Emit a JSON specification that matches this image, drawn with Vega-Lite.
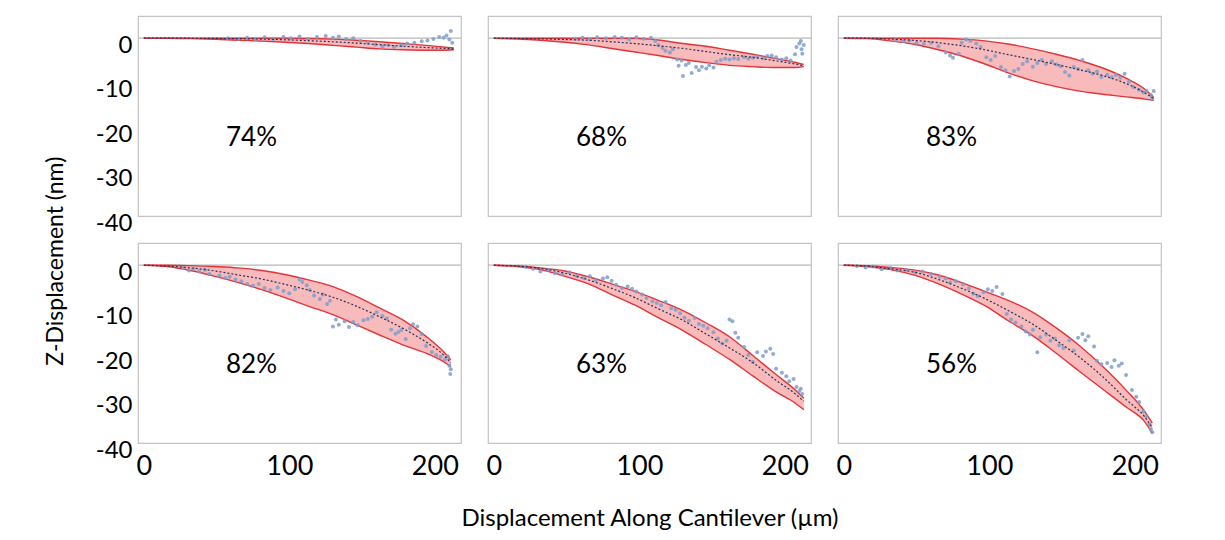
{
  "$schema": "https://vega.github.io/schema/vega-lite/v6.json",
  "padding": {"left": 45, "top": 15, "right": 5, "bottom": 5},
  "background": "white",
  "title": {"text": "Z-Displacement (nm)", "orient": "left", "anchor": "middle", "fontSize": 23, "fontWeight": "normal", "color": "black", "font": "Lato", "offset": 27, "dx": 12},
  "config": {
    "font": "Lato",
    "view": {"stroke": "#c4c4c4", "strokeWidth": 1.2},
    "axisX": {"ticks": false, "domain": false, "grid": false, "labelFontSize": 27, "labelColor": "black", "labelPadding": 9, "labelFlush": false, "labelFont": "Lato"},
    "axisY": {"ticks": false, "domain": false, "grid": false, "labelFontSize": 24, "labelColor": "black", "labelPadding": 4, "labelOffset": 7, "labelFlush": false, "labelFont": "Lato"}
  },
  "spacing": {"row": 25, "column": 23},
  "data": {"values": [
    {"r":1,"c":1,"k":"t","s":"74%"},
    {"r":1,"c":2,"k":"t","s":"68%"},
    {"r":1,"c":3,"k":"t","s":"83%"},
    {"r":2,"c":1,"k":"t","s":"82%"},
    {"r":2,"c":2,"k":"t","s":"63%"},
    {"r":2,"c":3,"k":"t","s":"56%"},

    {"r":1,"c":1,"k":"b","x":0,"u":0,"m":0,"l":0},
    {"r":1,"c":1,"k":"b","x":16,"u":0,"m":0,"l":0},
    {"r":1,"c":1,"k":"b","x":32,"u":0,"m":0,"l":-0.1},
    {"r":1,"c":1,"k":"b","x":49,"u":0,"m":-0.05,"l":-0.25},
    {"r":1,"c":1,"k":"b","x":65,"u":0,"m":-0.1,"l":-0.45},
    {"r":1,"c":1,"k":"b","x":81,"u":0,"m":-0.2,"l":-0.65},
    {"r":1,"c":1,"k":"b","x":97,"u":0,"m":-0.35,"l":-0.9},
    {"r":1,"c":1,"k":"b","x":113,"u":-0.05,"m":-0.55,"l":-1.2},
    {"r":1,"c":1,"k":"b","x":130,"u":-0.2,"m":-0.8,"l":-1.6},
    {"r":1,"c":1,"k":"b","x":146,"u":-0.45,"m":-1.1,"l":-2.0},
    {"r":1,"c":1,"k":"b","x":162,"u":-0.8,"m":-1.45,"l":-2.4},
    {"r":1,"c":1,"k":"b","x":178,"u":-1.2,"m":-1.8,"l":-2.6},
    {"r":1,"c":1,"k":"b","x":194,"u":-1.6,"m":-2.1,"l":-2.7},
    {"r":1,"c":1,"k":"b","x":207,"u":-2.0,"m":-2.3,"l":-2.7},
    {"r":1,"c":1,"k":"b","x":213,"u":-2.2,"m":-2.4,"l":-2.6},

    {"r":1,"c":2,"k":"b","x":0,"u":0,"m":0,"l":0},
    {"r":1,"c":2,"k":"b","x":16,"u":0,"m":-0.05,"l":-0.2},
    {"r":1,"c":2,"k":"b","x":32,"u":0,"m":-0.15,"l":-0.45},
    {"r":1,"c":2,"k":"b","x":49,"u":0,"m":-0.3,"l":-0.9},
    {"r":1,"c":2,"k":"b","x":65,"u":0,"m":-0.45,"l":-1.5},
    {"r":1,"c":2,"k":"b","x":81,"u":0,"m":-0.8,"l":-2.3},
    {"r":1,"c":2,"k":"b","x":97,"u":0,"m":-1.2,"l":-3.1},
    {"r":1,"c":2,"k":"b","x":113,"u":-0.4,"m":-1.7,"l":-3.9},
    {"r":1,"c":2,"k":"b","x":130,"u":-1.2,"m":-2.3,"l":-4.8},
    {"r":1,"c":2,"k":"b","x":146,"u":-1.8,"m":-3.0,"l":-5.5},
    {"r":1,"c":2,"k":"b","x":162,"u":-2.7,"m":-3.7,"l":-6.1},
    {"r":1,"c":2,"k":"b","x":178,"u":-3.6,"m":-4.3,"l":-6.4},
    {"r":1,"c":2,"k":"b","x":194,"u":-4.6,"m":-5.1,"l":-6.6},
    {"r":1,"c":2,"k":"b","x":207,"u":-5.4,"m":-5.8,"l":-6.6},
    {"r":1,"c":2,"k":"b","x":213,"u":-5.9,"m":-6.2,"l":-6.4},

    {"r":1,"c":3,"k":"b","x":0,"u":0,"m":0,"l":0},
    {"r":1,"c":3,"k":"b","x":16,"u":0,"m":0,"l":-0.1},
    {"r":1,"c":3,"k":"b","x":32,"u":0,"m":-0.2,"l":-0.6},
    {"r":1,"c":3,"k":"b","x":49,"u":0,"m":-0.5,"l":-1.4},
    {"r":1,"c":3,"k":"b","x":65,"u":0,"m":-1.0,"l":-2.6},
    {"r":1,"c":3,"k":"b","x":81,"u":-0.2,"m":-1.7,"l":-4.0},
    {"r":1,"c":3,"k":"b","x":97,"u":-0.6,"m":-2.6,"l":-5.8},
    {"r":1,"c":3,"k":"b","x":113,"u":-1.3,"m":-3.7,"l":-7.8},
    {"r":1,"c":3,"k":"b","x":130,"u":-2.4,"m":-4.8,"l":-9.6},
    {"r":1,"c":3,"k":"b","x":146,"u":-3.6,"m":-5.9,"l":-10.9},
    {"r":1,"c":3,"k":"b","x":162,"u":-5.0,"m":-7.1,"l":-11.9},
    {"r":1,"c":3,"k":"b","x":178,"u":-6.7,"m":-8.4,"l":-12.6},
    {"r":1,"c":3,"k":"b","x":194,"u":-9.0,"m":-10.2,"l":-13.2},
    {"r":1,"c":3,"k":"b","x":207,"u":-11.5,"m":-12.3,"l":-13.7},
    {"r":1,"c":3,"k":"b","x":213,"u":-13.3,"m":-13.6,"l":-14.0},

    {"r":2,"c":1,"k":"b","x":0,"u":0,"m":0,"l":0},
    {"r":2,"c":1,"k":"b","x":16,"u":0,"m":-0.2,"l":-0.3},
    {"r":2,"c":1,"k":"b","x":32,"u":-0.1,"m":-0.6,"l":-1.2},
    {"r":2,"c":1,"k":"b","x":49,"u":-0.3,"m":-1.3,"l":-2.5},
    {"r":2,"c":1,"k":"b","x":65,"u":-0.6,"m":-2.2,"l":-3.9},
    {"r":2,"c":1,"k":"b","x":81,"u":-1.2,"m":-3.1,"l":-5.5},
    {"r":2,"c":1,"k":"b","x":97,"u":-2.1,"m":-4.3,"l":-7.3},
    {"r":2,"c":1,"k":"b","x":113,"u":-3.3,"m":-5.6,"l":-9.2},
    {"r":2,"c":1,"k":"b","x":130,"u":-4.8,"m":-7.2,"l":-11.1},
    {"r":2,"c":1,"k":"b","x":146,"u":-7.0,"m":-9.2,"l":-13.4},
    {"r":2,"c":1,"k":"b","x":162,"u":-9.6,"m":-11.6,"l":-15.7},
    {"r":2,"c":1,"k":"b","x":178,"u":-12.3,"m":-14.2,"l":-17.9},
    {"r":2,"c":1,"k":"b","x":194,"u":-16.0,"m":-17.3,"l":-19.8},
    {"r":2,"c":1,"k":"b","x":207,"u":-19.8,"m":-20.5,"l":-21.9},
    {"r":2,"c":1,"k":"b","x":211,"u":-21.3,"m":-22.0,"l":-22.8},

    {"r":2,"c":2,"k":"b","x":0,"u":0,"m":0,"l":0},
    {"r":2,"c":2,"k":"b","x":16,"u":-0.15,"m":-0.2,"l":-0.3},
    {"r":2,"c":2,"k":"b","x":32,"u":-0.6,"m":-0.7,"l":-1.0},
    {"r":2,"c":2,"k":"b","x":49,"u":-1.3,"m":-1.8,"l":-2.5},
    {"r":2,"c":2,"k":"b","x":65,"u":-2.6,"m":-3.3,"l":-4.2},
    {"r":2,"c":2,"k":"b","x":81,"u":-4.2,"m":-5.2,"l":-6.6},
    {"r":2,"c":2,"k":"b","x":97,"u":-5.9,"m":-7.3,"l":-9.0},
    {"r":2,"c":2,"k":"b","x":113,"u":-7.9,"m":-9.8,"l":-11.8},
    {"r":2,"c":2,"k":"b","x":130,"u":-10.2,"m":-12.4,"l":-14.7},
    {"r":2,"c":2,"k":"b","x":146,"u":-13.0,"m":-15.5,"l":-17.9},
    {"r":2,"c":2,"k":"b","x":162,"u":-16.1,"m":-18.6,"l":-21.2},
    {"r":2,"c":2,"k":"b","x":178,"u":-20.3,"m":-21.9,"l":-24.9},
    {"r":2,"c":2,"k":"b","x":194,"u":-24.6,"m":-25.9,"l":-28.5},
    {"r":2,"c":2,"k":"b","x":207,"u":-28.0,"m":-28.9,"l":-31.0},
    {"r":2,"c":2,"k":"b","x":213,"u":-29.9,"m":-30.6,"l":-32.5},

    {"r":2,"c":3,"k":"b","x":0,"u":0,"m":0,"l":0},
    {"r":2,"c":3,"k":"b","x":16,"u":-0.1,"m":-0.2,"l":-0.3},
    {"r":2,"c":3,"k":"b","x":32,"u":-0.5,"m":-0.8,"l":-1.0},
    {"r":2,"c":3,"k":"b","x":49,"u":-1.1,"m":-1.6,"l":-2.3},
    {"r":2,"c":3,"k":"b","x":65,"u":-2.2,"m":-3.2,"l":-4.2},
    {"r":2,"c":3,"k":"b","x":81,"u":-3.9,"m":-5.2,"l":-6.5},
    {"r":2,"c":3,"k":"b","x":97,"u":-5.9,"m":-7.5,"l":-9.1},
    {"r":2,"c":3,"k":"b","x":113,"u":-7.9,"m":-10.2,"l":-12.5},
    {"r":2,"c":3,"k":"b","x":130,"u":-10.6,"m":-13.3,"l":-15.9},
    {"r":2,"c":3,"k":"b","x":146,"u":-14.1,"m":-16.9,"l":-19.8},
    {"r":2,"c":3,"k":"b","x":162,"u":-18.1,"m":-20.7,"l":-23.9},
    {"r":2,"c":3,"k":"b","x":178,"u":-22.8,"m":-25.1,"l":-27.9},
    {"r":2,"c":3,"k":"b","x":194,"u":-28.1,"m":-30.2,"l":-31.9},
    {"r":2,"c":3,"k":"b","x":207,"u":-33.0,"m":-34.2,"l":-35.3},
    {"r":2,"c":3,"k":"b","x":212,"u":-35.5,"m":-36.6,"l":-37.8},

    {"r":1,"c":1,"k":"p","x":58,"z":0.0},{"r":1,"c":1,"k":"p","x":65,"z":-0.2},{"r":1,"c":1,"k":"p","x":71,"z":0.1},{"r":1,"c":1,"k":"p","x":77,"z":-0.3},
    {"r":1,"c":1,"k":"p","x":83,"z":0.2},{"r":1,"c":1,"k":"p","x":89,"z":-0.2},{"r":1,"c":1,"k":"p","x":96,"z":0.3},{"r":1,"c":1,"k":"p","x":101,"z":0.0},
    {"r":1,"c":1,"k":"p","x":107,"z":0.4},{"r":1,"c":1,"k":"p","x":113,"z":-0.1},{"r":1,"c":1,"k":"p","x":119,"z":0.3},{"r":1,"c":1,"k":"p","x":125,"z":0.5},
    {"r":1,"c":1,"k":"p","x":130,"z":0.1},{"r":1,"c":1,"k":"p","x":134,"z":0.4},{"r":1,"c":1,"k":"p","x":139,"z":-0.2},{"r":1,"c":1,"k":"p","x":144,"z":0.0},
    {"r":1,"c":1,"k":"p","x":149,"z":-0.6},{"r":1,"c":1,"k":"p","x":154,"z":-1.0},{"r":1,"c":1,"k":"p","x":159,"z":-1.4},{"r":1,"c":1,"k":"p","x":164,"z":-1.8},
    {"r":1,"c":1,"k":"p","x":168,"z":-1.5},{"r":1,"c":1,"k":"p","x":172,"z":-2.0},{"r":1,"c":1,"k":"p","x":177,"z":-1.6},{"r":1,"c":1,"k":"p","x":181,"z":-1.2},
    {"r":1,"c":1,"k":"p","x":186,"z":-1.0},{"r":1,"c":1,"k":"p","x":191,"z":-0.7},{"r":1,"c":1,"k":"p","x":195,"z":-0.5},{"r":1,"c":1,"k":"p","x":199,"z":-0.2},
    {"r":1,"c":1,"k":"p","x":203,"z":0.3},{"r":1,"c":1,"k":"p","x":206,"z":0.1},{"r":1,"c":1,"k":"p","x":208,"z":0.6},{"r":1,"c":1,"k":"p","x":210,"z":-0.3},
    {"r":1,"c":1,"k":"p","x":211,"z":1.6},{"r":1,"c":1,"k":"p","x":212,"z":-1.0},

    {"r":1,"c":2,"k":"p","x":56,"z":-0.1},{"r":1,"c":2,"k":"p","x":61,"z":0.1},{"r":1,"c":2,"k":"p","x":66,"z":-0.2},{"r":1,"c":2,"k":"p","x":71,"z":0.2},
    {"r":1,"c":2,"k":"p","x":77,"z":0.0},{"r":1,"c":2,"k":"p","x":83,"z":0.3},{"r":1,"c":2,"k":"p","x":88,"z":0.1},{"r":1,"c":2,"k":"p","x":93,"z":-0.3},
    {"r":1,"c":2,"k":"p","x":98,"z":0.2},{"r":1,"c":2,"k":"p","x":103,"z":-0.1},{"r":1,"c":2,"k":"p","x":108,"z":0.1},{"r":1,"c":2,"k":"p","x":111,"z":-0.6},
    {"r":1,"c":2,"k":"p","x":113,"z":-1.5},{"r":1,"c":2,"k":"p","x":116,"z":-2.2},{"r":1,"c":2,"k":"p","x":118,"z":-2.8},{"r":1,"c":2,"k":"p","x":121,"z":-3.2},
    {"r":1,"c":2,"k":"p","x":123,"z":-2.5},{"r":1,"c":2,"k":"p","x":126,"z":-4.8},{"r":1,"c":2,"k":"p","x":127,"z":-6.2},{"r":1,"c":2,"k":"p","x":129,"z":-5.0},
    {"r":1,"c":2,"k":"p","x":130,"z":-8.5},{"r":1,"c":2,"k":"p","x":132,"z":-6.0},{"r":1,"c":2,"k":"p","x":134,"z":-5.6},{"r":1,"c":2,"k":"p","x":136,"z":-7.8},
    {"r":1,"c":2,"k":"p","x":139,"z":-6.5},{"r":1,"c":2,"k":"p","x":141,"z":-7.2},{"r":1,"c":2,"k":"p","x":143,"z":-6.4},{"r":1,"c":2,"k":"p","x":146,"z":-6.8},
    {"r":1,"c":2,"k":"p","x":148,"z":-6.1},{"r":1,"c":2,"k":"p","x":151,"z":-6.6},{"r":1,"c":2,"k":"p","x":153,"z":-5.3},{"r":1,"c":2,"k":"p","x":156,"z":-4.9},
    {"r":1,"c":2,"k":"p","x":159,"z":-4.6},{"r":1,"c":2,"k":"p","x":162,"z":-4.8},{"r":1,"c":2,"k":"p","x":165,"z":-4.5},{"r":1,"c":2,"k":"p","x":168,"z":-4.7},
    {"r":1,"c":2,"k":"p","x":172,"z":-4.3},{"r":1,"c":2,"k":"p","x":175,"z":-4.6},{"r":1,"c":2,"k":"p","x":178,"z":-4.4},{"r":1,"c":2,"k":"p","x":181,"z":-4.1},
    {"r":1,"c":2,"k":"p","x":185,"z":-4.5},{"r":1,"c":2,"k":"p","x":188,"z":-4.0},{"r":1,"c":2,"k":"p","x":191,"z":-3.9},{"r":1,"c":2,"k":"p","x":194,"z":-4.3},
    {"r":1,"c":2,"k":"p","x":198,"z":-4.8},{"r":1,"c":2,"k":"p","x":201,"z":-4.5},{"r":1,"c":2,"k":"p","x":204,"z":-5.0},{"r":1,"c":2,"k":"p","x":207,"z":-3.6},
    {"r":1,"c":2,"k":"p","x":208,"z":-2.0},{"r":1,"c":2,"k":"p","x":210,"z":-1.2},{"r":1,"c":2,"k":"p","x":211,"z":-0.6},{"r":1,"c":2,"k":"p","x":211.5,"z":-2.5},
    {"r":1,"c":2,"k":"p","x":212,"z":-3.5},{"r":1,"c":2,"k":"p","x":213,"z":-1.5},

    {"r":1,"c":3,"k":"p","x":36,"z":-0.4},{"r":1,"c":3,"k":"p","x":41,"z":-0.7},{"r":1,"c":3,"k":"p","x":45,"z":-0.5},{"r":1,"c":3,"k":"p","x":50,"z":-1.0},
    {"r":1,"c":3,"k":"p","x":55,"z":-1.3},{"r":1,"c":3,"k":"p","x":60,"z":-1.1},{"r":1,"c":3,"k":"p","x":65,"z":-1.8},{"r":1,"c":3,"k":"p","x":70,"z":-3.2},
    {"r":1,"c":3,"k":"p","x":73,"z":-3.9},{"r":1,"c":3,"k":"p","x":75,"z":-4.4},{"r":1,"c":3,"k":"p","x":79,"z":-3.5},{"r":1,"c":3,"k":"p","x":81,"z":-1.0},
    {"r":1,"c":3,"k":"p","x":84,"z":-0.3},{"r":1,"c":3,"k":"p","x":87,"z":-0.6},{"r":1,"c":3,"k":"p","x":91,"z":-1.2},{"r":1,"c":3,"k":"p","x":94,"z":-2.0},
    {"r":1,"c":3,"k":"p","x":98,"z":-4.3},{"r":1,"c":3,"k":"p","x":101,"z":-4.9},{"r":1,"c":3,"k":"p","x":104,"z":-4.0},{"r":1,"c":3,"k":"p","x":108,"z":-6.5},
    {"r":1,"c":3,"k":"p","x":111,"z":-7.2},{"r":1,"c":3,"k":"p","x":114,"z":-8.6},{"r":1,"c":3,"k":"p","x":117,"z":-7.4},{"r":1,"c":3,"k":"p","x":120,"z":-6.9},
    {"r":1,"c":3,"k":"p","x":123,"z":-5.8},{"r":1,"c":3,"k":"p","x":126,"z":-5.2},{"r":1,"c":3,"k":"p","x":130,"z":-6.4},{"r":1,"c":3,"k":"p","x":133,"z":-5.6},
    {"r":1,"c":3,"k":"p","x":136,"z":-4.9},{"r":1,"c":3,"k":"p","x":139,"z":-5.8},{"r":1,"c":3,"k":"p","x":143,"z":-5.2},{"r":1,"c":3,"k":"p","x":146,"z":-5.9},
    {"r":1,"c":3,"k":"p","x":149,"z":-6.3},{"r":1,"c":3,"k":"p","x":152,"z":-7.6},{"r":1,"c":3,"k":"p","x":155,"z":-8.4},{"r":1,"c":3,"k":"p","x":158,"z":-6.5},
    {"r":1,"c":3,"k":"p","x":161,"z":-6.9},{"r":1,"c":3,"k":"p","x":164,"z":-4.9},{"r":1,"c":3,"k":"p","x":168,"z":-7.2},{"r":1,"c":3,"k":"p","x":171,"z":-8.0},
    {"r":1,"c":3,"k":"p","x":174,"z":-7.5},{"r":1,"c":3,"k":"p","x":177,"z":-8.7},{"r":1,"c":3,"k":"p","x":181,"z":-8.2},{"r":1,"c":3,"k":"p","x":184,"z":-8.8},
    {"r":1,"c":3,"k":"p","x":187,"z":-8.3},{"r":1,"c":3,"k":"p","x":190,"z":-8.9},{"r":1,"c":3,"k":"p","x":193,"z":-8.0},{"r":1,"c":3,"k":"p","x":196,"z":-9.8},
    {"r":1,"c":3,"k":"p","x":199,"z":-11.0},{"r":1,"c":3,"k":"p","x":203,"z":-11.6},{"r":1,"c":3,"k":"p","x":206,"z":-12.2},{"r":1,"c":3,"k":"p","x":208,"z":-11.8},
    {"r":1,"c":3,"k":"p","x":211,"z":-12.8},{"r":1,"c":3,"k":"p","x":212,"z":-13.5},{"r":1,"c":3,"k":"p","x":213,"z":-11.9},

    {"r":2,"c":1,"k":"p","x":27,"z":-0.6},{"r":2,"c":1,"k":"p","x":31,"z":-1.2},{"r":2,"c":1,"k":"p","x":34,"z":-0.8},{"r":2,"c":1,"k":"p","x":38,"z":-1.4},
    {"r":2,"c":1,"k":"p","x":42,"z":-1.0},{"r":2,"c":1,"k":"p","x":45,"z":-2.0},{"r":2,"c":1,"k":"p","x":52,"z":-2.3},{"r":2,"c":1,"k":"p","x":56,"z":-2.9},
    {"r":2,"c":1,"k":"p","x":59,"z":-2.6},{"r":2,"c":1,"k":"p","x":63,"z":-3.2},{"r":2,"c":1,"k":"p","x":67,"z":-3.6},{"r":2,"c":1,"k":"p","x":71,"z":-4.2},
    {"r":2,"c":1,"k":"p","x":75,"z":-4.6},{"r":2,"c":1,"k":"p","x":79,"z":-4.2},{"r":2,"c":1,"k":"p","x":83,"z":-5.1},{"r":2,"c":1,"k":"p","x":87,"z":-5.6},
    {"r":2,"c":1,"k":"p","x":92,"z":-5.0},{"r":2,"c":1,"k":"p","x":96,"z":-5.8},{"r":2,"c":1,"k":"p","x":100,"z":-6.3},{"r":2,"c":1,"k":"p","x":104,"z":-5.4},
    {"r":2,"c":1,"k":"p","x":107,"z":-3.2},{"r":2,"c":1,"k":"p","x":109,"z":-3.8},{"r":2,"c":1,"k":"p","x":112,"z":-4.5},{"r":2,"c":1,"k":"p","x":114,"z":-5.6},
    {"r":2,"c":1,"k":"p","x":117,"z":-6.8},{"r":2,"c":1,"k":"p","x":121,"z":-7.6},{"r":2,"c":1,"k":"p","x":123,"z":-6.6},{"r":2,"c":1,"k":"p","x":126,"z":-8.7},
    {"r":2,"c":1,"k":"p","x":128,"z":-8.0},{"r":2,"c":1,"k":"p","x":130,"z":-13.8},{"r":2,"c":1,"k":"p","x":132,"z":-12.2},{"r":2,"c":1,"k":"p","x":134,"z":-13.4},
    {"r":2,"c":1,"k":"p","x":138,"z":-12.6},{"r":2,"c":1,"k":"p","x":141,"z":-13.9},{"r":2,"c":1,"k":"p","x":144,"z":-12.8},{"r":2,"c":1,"k":"p","x":147,"z":-13.5},
    {"r":2,"c":1,"k":"p","x":151,"z":-12.4},{"r":2,"c":1,"k":"p","x":154,"z":-12.1},{"r":2,"c":1,"k":"p","x":157,"z":-11.6},{"r":2,"c":1,"k":"p","x":160,"z":-10.6},
    {"r":2,"c":1,"k":"p","x":164,"z":-11.4},{"r":2,"c":1,"k":"p","x":167,"z":-12.0},{"r":2,"c":1,"k":"p","x":170,"z":-14.5},{"r":2,"c":1,"k":"p","x":173,"z":-15.4},
    {"r":2,"c":1,"k":"p","x":175,"z":-15.0},{"r":2,"c":1,"k":"p","x":177,"z":-14.6},{"r":2,"c":1,"k":"p","x":180,"z":-16.6},{"r":2,"c":1,"k":"p","x":183,"z":-14.2},
    {"r":2,"c":1,"k":"p","x":185,"z":-13.3},{"r":2,"c":1,"k":"p","x":188,"z":-13.8},{"r":2,"c":1,"k":"p","x":191,"z":-15.5},{"r":2,"c":1,"k":"p","x":194,"z":-18.2},
    {"r":2,"c":1,"k":"p","x":198,"z":-19.5},{"r":2,"c":1,"k":"p","x":201,"z":-20.2},{"r":2,"c":1,"k":"p","x":204,"z":-20.6},{"r":2,"c":1,"k":"p","x":207,"z":-21.2},
    {"r":2,"c":1,"k":"p","x":209,"z":-20.5},{"r":2,"c":1,"k":"p","x":210,"z":-22.6},{"r":2,"c":1,"k":"p","x":210.6,"z":-24.5},{"r":2,"c":1,"k":"p","x":211,"z":-23.4},

    {"r":2,"c":2,"k":"p","x":22,"z":-0.4},{"r":2,"c":2,"k":"p","x":27,"z":-0.8},{"r":2,"c":2,"k":"p","x":32,"z":-1.4},{"r":2,"c":2,"k":"p","x":37,"z":-1.0},
    {"r":2,"c":2,"k":"p","x":42,"z":-1.8},{"r":2,"c":2,"k":"p","x":47,"z":-2.1},{"r":2,"c":2,"k":"p","x":52,"z":-1.6},{"r":2,"c":2,"k":"p","x":57,"z":-2.4},
    {"r":2,"c":2,"k":"p","x":62,"z":-2.9},{"r":2,"c":2,"k":"p","x":66,"z":-2.5},{"r":2,"c":2,"k":"p","x":70,"z":-3.3},{"r":2,"c":2,"k":"p","x":75,"z":-3.0},
    {"r":2,"c":2,"k":"p","x":78,"z":-2.7},{"r":2,"c":2,"k":"p","x":81,"z":-3.5},{"r":2,"c":2,"k":"p","x":84,"z":-4.4},{"r":2,"c":2,"k":"p","x":88,"z":-5.1},
    {"r":2,"c":2,"k":"p","x":92,"z":-4.8},{"r":2,"c":2,"k":"p","x":95,"z":-5.3},{"r":2,"c":2,"k":"p","x":98,"z":-5.9},{"r":2,"c":2,"k":"p","x":102,"z":-6.6},
    {"r":2,"c":2,"k":"p","x":105,"z":-7.4},{"r":2,"c":2,"k":"p","x":109,"z":-8.1},{"r":2,"c":2,"k":"p","x":112,"z":-8.5},{"r":2,"c":2,"k":"p","x":115,"z":-9.0},
    {"r":2,"c":2,"k":"p","x":118,"z":-8.3},{"r":2,"c":2,"k":"p","x":122,"z":-9.7},{"r":2,"c":2,"k":"p","x":125,"z":-10.0},{"r":2,"c":2,"k":"p","x":128,"z":-10.8},
    {"r":2,"c":2,"k":"p","x":131,"z":-11.8},{"r":2,"c":2,"k":"p","x":134,"z":-12.5},{"r":2,"c":2,"k":"p","x":138,"z":-11.9},{"r":2,"c":2,"k":"p","x":141,"z":-13.2},
    {"r":2,"c":2,"k":"p","x":144,"z":-13.6},{"r":2,"c":2,"k":"p","x":147,"z":-14.2},{"r":2,"c":2,"k":"p","x":151,"z":-15.1},{"r":2,"c":2,"k":"p","x":154,"z":-16.5},
    {"r":2,"c":2,"k":"p","x":157,"z":-17.6},{"r":2,"c":2,"k":"p","x":160,"z":-17.0},{"r":2,"c":2,"k":"p","x":162,"z":-12.2},{"r":2,"c":2,"k":"p","x":164,"z":-12.6},
    {"r":2,"c":2,"k":"p","x":166,"z":-15.2},{"r":2,"c":2,"k":"p","x":168,"z":-16.3},{"r":2,"c":2,"k":"p","x":172,"z":-18.4},{"r":2,"c":2,"k":"p","x":175,"z":-20.2},
    {"r":2,"c":2,"k":"p","x":178,"z":-21.8},{"r":2,"c":2,"k":"p","x":181,"z":-19.6},{"r":2,"c":2,"k":"p","x":185,"z":-20.4},{"r":2,"c":2,"k":"p","x":187,"z":-19.4},
    {"r":2,"c":2,"k":"p","x":190,"z":-18.8},{"r":2,"c":2,"k":"p","x":192,"z":-20.0},{"r":2,"c":2,"k":"p","x":194,"z":-23.3},{"r":2,"c":2,"k":"p","x":198,"z":-24.2},
    {"r":2,"c":2,"k":"p","x":201,"z":-25.0},{"r":2,"c":2,"k":"p","x":203,"z":-26.1},{"r":2,"c":2,"k":"p","x":206,"z":-25.6},{"r":2,"c":2,"k":"p","x":208,"z":-27.4},
    {"r":2,"c":2,"k":"p","x":210,"z":-28.3},{"r":2,"c":2,"k":"p","x":211,"z":-27.8},{"r":2,"c":2,"k":"p","x":212,"z":-29.0},

    {"r":2,"c":3,"k":"p","x":9,"z":-0.2},{"r":2,"c":3,"k":"p","x":15,"z":-0.5},{"r":2,"c":3,"k":"p","x":20,"z":-0.3},{"r":2,"c":3,"k":"p","x":26,"z":-0.9},
    {"r":2,"c":3,"k":"p","x":32,"z":-0.6},{"r":2,"c":3,"k":"p","x":37,"z":-1.2},{"r":2,"c":3,"k":"p","x":43,"z":-1.0},{"r":2,"c":3,"k":"p","x":49,"z":-1.6},
    {"r":2,"c":3,"k":"p","x":54,"z":-1.4},{"r":2,"c":3,"k":"p","x":60,"z":-2.0},{"r":2,"c":3,"k":"p","x":66,"z":-2.6},{"r":2,"c":3,"k":"p","x":70,"z":-3.0},
    {"r":2,"c":3,"k":"p","x":73,"z":-3.9},{"r":2,"c":3,"k":"p","x":77,"z":-3.6},{"r":2,"c":3,"k":"p","x":82,"z":-4.3},{"r":2,"c":3,"k":"p","x":86,"z":-5.2},
    {"r":2,"c":3,"k":"p","x":89,"z":-6.4},{"r":2,"c":3,"k":"p","x":92,"z":-6.9},{"r":2,"c":3,"k":"p","x":96,"z":-6.1},{"r":2,"c":3,"k":"p","x":99,"z":-5.4},
    {"r":2,"c":3,"k":"p","x":102,"z":-5.8},{"r":2,"c":3,"k":"p","x":105,"z":-4.9},{"r":2,"c":3,"k":"p","x":109,"z":-6.5},{"r":2,"c":3,"k":"p","x":112,"z":-11.0},
    {"r":2,"c":3,"k":"p","x":115,"z":-12.2},{"r":2,"c":3,"k":"p","x":118,"z":-12.9},{"r":2,"c":3,"k":"p","x":122,"z":-13.8},{"r":2,"c":3,"k":"p","x":125,"z":-14.9},
    {"r":2,"c":3,"k":"p","x":128,"z":-15.6},{"r":2,"c":3,"k":"p","x":130,"z":-14.5},{"r":2,"c":3,"k":"p","x":133,"z":-19.6},{"r":2,"c":3,"k":"p","x":135,"z":-16.2},
    {"r":2,"c":3,"k":"p","x":139,"z":-15.6},{"r":2,"c":3,"k":"p","x":142,"z":-17.0},{"r":2,"c":3,"k":"p","x":145,"z":-16.5},{"r":2,"c":3,"k":"p","x":148,"z":-18.0},
    {"r":2,"c":3,"k":"p","x":151,"z":-18.6},{"r":2,"c":3,"k":"p","x":155,"z":-16.9},{"r":2,"c":3,"k":"p","x":158,"z":-19.2},{"r":2,"c":3,"k":"p","x":161,"z":-16.3},
    {"r":2,"c":3,"k":"p","x":164,"z":-15.5},{"r":2,"c":3,"k":"p","x":166,"z":-16.9},{"r":2,"c":3,"k":"p","x":168,"z":-16.0},{"r":2,"c":3,"k":"p","x":172,"z":-18.3},
    {"r":2,"c":3,"k":"p","x":174,"z":-21.5},{"r":2,"c":3,"k":"p","x":177,"z":-22.3},{"r":2,"c":3,"k":"p","x":181,"z":-22.0},{"r":2,"c":3,"k":"p","x":184,"z":-22.9},
    {"r":2,"c":3,"k":"p","x":186,"z":-21.4},{"r":2,"c":3,"k":"p","x":189,"z":-22.6},{"r":2,"c":3,"k":"p","x":191,"z":-22.1},{"r":2,"c":3,"k":"p","x":194,"z":-24.7},
    {"r":2,"c":3,"k":"p","x":198,"z":-28.1},{"r":2,"c":3,"k":"p","x":201,"z":-29.6},{"r":2,"c":3,"k":"p","x":203,"z":-30.8},{"r":2,"c":3,"k":"p","x":206,"z":-32.9},
    {"r":2,"c":3,"k":"p","x":208,"z":-34.0},{"r":2,"c":3,"k":"p","x":210,"z":-35.8},{"r":2,"c":3,"k":"p","x":211,"z":-36.9},{"r":2,"c":3,"k":"p","x":212,"z":-37.6}
  ]},
  "facet": {
    "row": {"field": "r", "type": "ordinal", "title": null, "header": {"labels": false}},
    "column": {"field": "c", "type": "ordinal", "title": "Displacement Along Cantilever (µm)",
      "header": {"orient": "bottom", "labels": false, "titleFontSize": 24, "titleFontWeight": "normal", "titleColor": "black", "titleFont": "Lato", "titlePadding": 18}}
  },
  "spec": {
    "width": 323,
    "height": 200,
    "layer": [
      {
        "transform": [{"filter": "datum.k == 't'"}],
        "mark": {"type": "rule", "color": "#b8b8b8", "strokeWidth": 1.3},
        "encoding": {"y": {"datum": 0, "type": "quantitative", "scale": {"domain": [-40, 5], "nice": false, "zero": false}, "title": null,
          "axis": {"values": [0, -10, -20, -30, -40], "labelExpr": "datum.value < 0 ? '-' + abs(datum.value) : '' + datum.value"}}}
      },
      {
        "transform": [{"filter": "datum.k == 'b'"}],
        "mark": {"type": "area", "color": "#f7b3b3", "opacity": 0.9, "interpolate": "monotone"},
        "encoding": {
          "x": {"field": "x", "type": "quantitative", "scale": {"domain": [-4, 218], "nice": false, "zero": false}, "title": null, "axis": {"values": [0, 100, 200]}},
          "y": {"field": "u", "type": "quantitative", "scale": {"domain": [-40, 5], "nice": false, "zero": false}, "title": null,
            "axis": {"values": [0, -10, -20, -30, -40], "labelExpr": "datum.value < 0 ? '-' + abs(datum.value) : '' + datum.value"}},
          "y2": {"field": "l"}
        }
      },
      {
        "transform": [{"filter": "datum.k == 'b'"}],
        "mark": {"type": "line", "color": "#e3343a", "strokeWidth": 1.4, "interpolate": "monotone"},
        "encoding": {
          "x": {"field": "x", "type": "quantitative", "scale": {"domain": [-4, 218], "nice": false, "zero": false}, "title": null, "axis": {"values": [0, 100, 200]}},
          "y": {"field": "u", "type": "quantitative", "scale": {"domain": [-40, 5], "nice": false, "zero": false}, "title": null,
            "axis": {"values": [0, -10, -20, -30, -40], "labelExpr": "datum.value < 0 ? '-' + abs(datum.value) : '' + datum.value"}}
        }
      },
      {
        "transform": [{"filter": "datum.k == 'b'"}],
        "mark": {"type": "line", "color": "#e3343a", "strokeWidth": 1.4, "interpolate": "monotone"},
        "encoding": {
          "x": {"field": "x", "type": "quantitative", "scale": {"domain": [-4, 218], "nice": false, "zero": false}, "title": null, "axis": {"values": [0, 100, 200]}},
          "y": {"field": "l", "type": "quantitative", "scale": {"domain": [-40, 5], "nice": false, "zero": false}, "title": null,
            "axis": {"values": [0, -10, -20, -30, -40], "labelExpr": "datum.value < 0 ? '-' + abs(datum.value) : '' + datum.value"}}
        }
      },
      {
        "transform": [{"filter": "datum.k == 'p'"}],
        "mark": {"type": "point", "filled": true, "size": 16, "color": "#7f9ccc", "opacity": 0.85},
        "encoding": {
          "x": {"field": "x", "type": "quantitative", "scale": {"domain": [-4, 218], "nice": false, "zero": false}, "title": null, "axis": {"values": [0, 100, 200]}},
          "y": {"field": "z", "type": "quantitative", "scale": {"domain": [-40, 5], "nice": false, "zero": false}, "title": null,
            "axis": {"values": [0, -10, -20, -30, -40], "labelExpr": "datum.value < 0 ? '-' + abs(datum.value) : '' + datum.value"}}
        }
      },
      {
        "transform": [{"filter": "datum.k == 'b'"}],
        "mark": {"type": "line", "color": "#2b3150", "strokeWidth": 1.2, "strokeDash": [2, 2], "interpolate": "monotone"},
        "encoding": {
          "x": {"field": "x", "type": "quantitative", "scale": {"domain": [-4, 218], "nice": false, "zero": false}, "title": null, "axis": {"values": [0, 100, 200]}},
          "y": {"field": "m", "type": "quantitative", "scale": {"domain": [-40, 5], "nice": false, "zero": false}, "title": null,
            "axis": {"values": [0, -10, -20, -30, -40], "labelExpr": "datum.value < 0 ? '-' + abs(datum.value) : '' + datum.value"}}
        }
      },
      {
        "transform": [{"filter": "datum.k == 't'"}],
        "mark": {"type": "text", "fontSize": 26, "color": "black", "font": "Lato", "align": "center", "baseline": "middle"},
        "encoding": {
          "x": {"datum": 74, "type": "quantitative", "scale": {"domain": [-4, 218], "nice": false, "zero": false}, "title": null, "axis": {"values": [0, 100, 200]}},
          "y": {"datum": -22.5, "type": "quantitative", "scale": {"domain": [-40, 5], "nice": false, "zero": false}, "title": null,
            "axis": {"values": [0, -10, -20, -30, -40], "labelExpr": "datum.value < 0 ? '-' + abs(datum.value) : '' + datum.value"}},
          "text": {"field": "s"}
        }
      }
    ]
  }
}
